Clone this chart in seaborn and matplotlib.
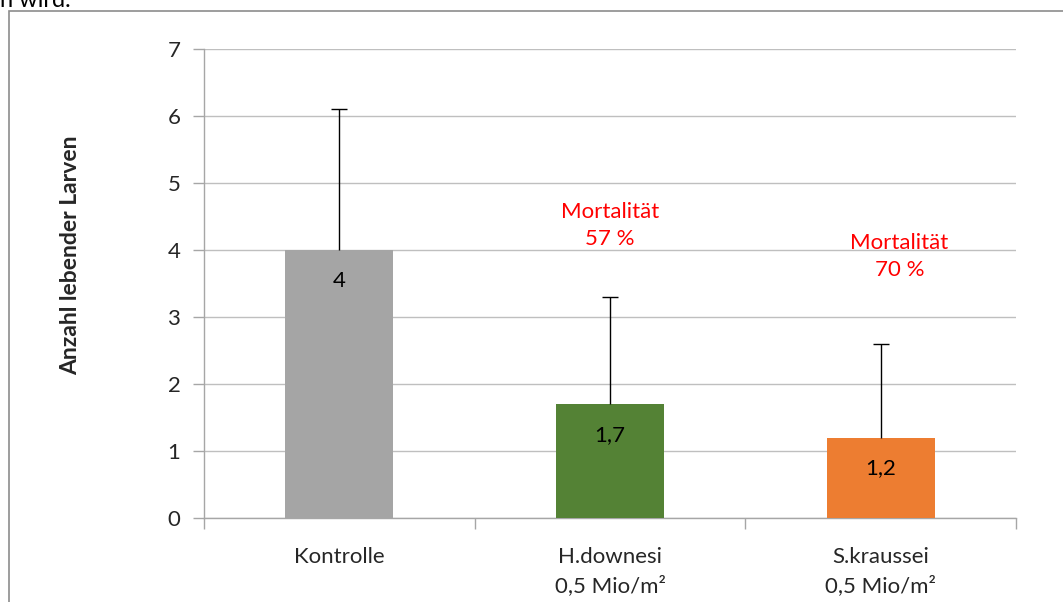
import matplotlib
matplotlib.use("Agg")
import matplotlib.pyplot as plt
import matplotlib.patches as mpatches
import seaborn as sns
import pandas as pd

categories = ["Kontrolle", "H.downesi\n0,5 Mio/m²", "S.kraussei\n0,5 Mio/m²"]
values = [4.0, 1.7, 1.2]
err_upper = [2.1, 1.6, 1.4]
value_labels = ["4", "1,7", "1,2"]
colors = ["#A5A5A5", "#548235", "#ED7D31"]
mort_labels = [None, "Mortalität\n57 %", "Mortalität\n70 %"]
mort_pos = [None, 4.36, 3.9]
mort_x = [None, 1.0, 2.07]
y_ticks = [0, 1, 2, 3, 4, 5, 6, 7]

sns.set_theme(style="white")
plt.rcParams['font.family'] = ['Lato', 'DejaVu Sans']
FS = 16

df = pd.DataFrame({"cat": categories, "val": values})

fig = plt.figure(figsize=(10.63, 6.02), dpi=100)
ax = fig.add_axes([204/1063, 1-518/602, (1016-204)/1063, (518-49)/602])

sns.barplot(data=df, x="cat", y="val", hue="cat", palette=colors, width=0.40,
            legend=False, ax=ax, zorder=3, saturation=1, linewidth=0)
eb = ax.errorbar(range(3), values, yerr=[[0, 0, 0], err_upper], fmt="none",
                 ecolor="black", elinewidth=1, capsize=6, capthick=1, zorder=4)
caps = eb[1]
if len(caps) == 2:
    caps[0].set_visible(False)

for i, (v, lab) in enumerate(zip(values, value_labels)):
    ax.text(i, v - 0.46, lab, ha="center", va="center", fontsize=FS, color="black", zorder=5)

for i in range(3):
    if mort_labels[i]:
        ax.text(mort_x[i], mort_pos[i], mort_labels[i], ha="center", va="center",
                fontsize=FS, color="#FF0000", linespacing=1.45, zorder=5)

ax.set_ylim(0, 7)
ax.set_xlim(-0.5, 2.5)
ax.set_yticks(y_ticks)
ax.set_yticklabels([str(t) for t in y_ticks], fontsize=FS)
ax.yaxis.grid(True, color="#BFBFBF", linewidth=1)
ax.set_axisbelow(True)
ax.set_xlabel("")
ax.set_ylabel("Anzahl lebender Larven", fontsize=FS + 0.5, fontweight="bold")
ax.yaxis.set_label_coords((81 - 204) / 812, (518 - 255) / 469)
ax.set_xticks(range(3))
ax.set_xticklabels(categories, fontsize=FS, linespacing=1.5, va="top")
ax.set_xticks([-0.5, 0.5, 1.5, 2.5], minor=True)
ax.tick_params(axis="x", which="major", length=0, pad=21)
ax.tick_params(axis="x", which="minor", length=8, color="#A6A6A6", width=1, direction="out", bottom=True)
ax.tick_params(axis="y", length=8, color="#A6A6A6", width=1, direction="out", left=True, pad=9)
for s in ["top", "right"]:
    ax.spines[s].set_visible(False)
for s in ["left", "bottom"]:
    ax.spines[s].set_color("#A6A6A6")
    ax.spines[s].set_linewidth(1)

top = 1 - 11/602
fig.patches.append(mpatches.Rectangle((9/1063, -0.2), 1.2, top + 0.2, transform=fig.transFigure,
                                      fill=False, edgecolor="#8C8C8C", linewidth=1.2))
fig.text(0.0, 0.999, "n wird.", ha="left", va="center", fontsize=FS + 1, color="black")

fig.savefig("out.png", dpi=100)
